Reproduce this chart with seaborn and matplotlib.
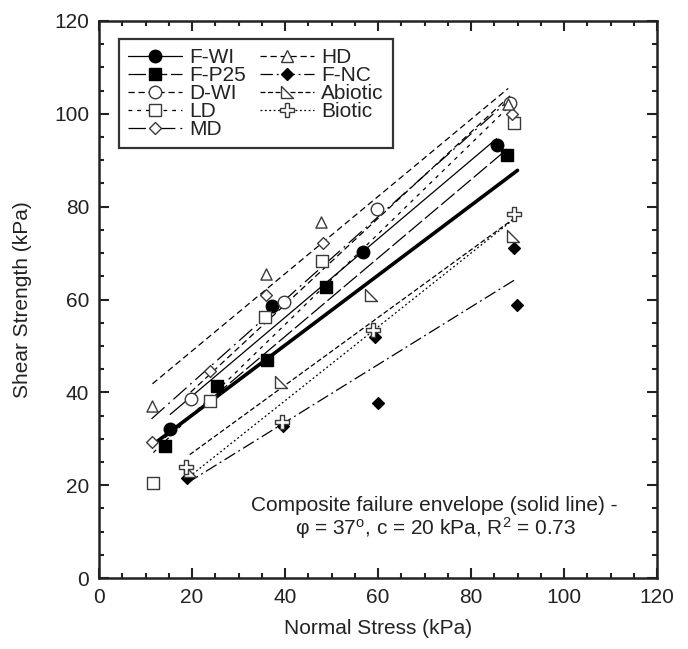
import numpy as np
import pandas as pd
import seaborn as sns
import matplotlib.pyplot as plt
from matplotlib.lines import Line2D
from matplotlib.path import Path
from matplotlib.ticker import MultipleLocator

# Data (normal stress, shear strength in kPa)
fwi_x = [15.3, 37.3, 56.8, 85.5]
fwi_y = [32.0, 58.6, 70.3, 93.2]
fp25_x = [14.2, 25.4, 36.1, 48.8, 87.8]
fp25_y = [28.4, 41.3, 47.0, 62.6, 91.2]
dwi_x = [19.7, 39.8, 59.7, 88.4]
dwi_y = [38.5, 59.5, 79.5, 102.3]
ld_x = [11.7, 23.9, 35.7, 47.9, 89.2]
ld_y = [20.5, 38.1, 56.3, 68.2, 98.1]
md_x = [11.3, 23.9, 35.9, 48.1, 88.8]
md_y = [29.4, 44.5, 60.9, 72.1, 99.9]
hd_x = [11.5, 35.9, 47.7, 88.0]
hd_y = [37.1, 65.5, 76.6, 102.2]
fnc_x = [19.0, 39.6, 59.4, 60.0, 89.2, 89.8]
fnc_y = [21.5, 32.8, 52.0, 37.7, 71.1, 58.8]
abio_x = [19.5, 39.1, 58.6, 89.0]
abio_y = [23.0, 42.3, 60.9, 73.6]
bio_x = [18.7, 39.3, 59.0, 89.2]
bio_y = [24.0, 33.7, 53.4, 78.4]

labels = ["F-WI", "F-P25", "D-WI", "LD", "MD", "HD", "F-NC", "Abiotic", "Biotic"]
xs = [fwi_x, fp25_x, dwi_x, ld_x, md_x, hd_x, fnc_x, abio_x, bio_x]
ys = [fwi_y, fp25_y, dwi_y, ld_y, md_y, hd_y, fnc_y, abio_y, bio_y]

# Composite failure envelope
phi_deg = 37
cohesion = 20
env_x = [11.7, 90.0]

# right-angle triangle marker for Abiotic
rtri = Path([(-1, 1), (-1, -1), (1, -1), (-1, 1)],
            [Path.MOVETO, Path.LINETO, Path.LINETO, Path.CLOSEPOLY])

# marker, face, size, dashes
styles = {
    "F-WI": ("o", "black", 9, None),
    "F-P25": ("s", "black", 9, (14, 3)),
    "D-WI": ("o", "white", 9, (5, 3)),
    "LD": ("s", "white", 8.5, (3, 4)),
    "MD": ("D", "white", 6, (14, 4, 1.5, 4)),
    "HD": ("^", "white", 8, (5, 3)),
    "F-NC": ("D", "black", 6, (10, 3, 1.5, 3)),
    "Abiotic": (rtri, "white", 9, (4, 2)),
    "Biotic": ("P", "white", 10, (1.5, 2)),
}

FS = 15

sns.set_style("ticks")
plt.rcParams['font.family'] = ['Liberation Sans', 'DejaVu Sans']
plt.rcParams['mathtext.fontset'] = 'custom'
plt.rcParams['mathtext.rm'] = 'Liberation Sans'
plt.rcParams['mathtext.it'] = 'Liberation Sans:italic'

fig = plt.figure(figsize=(6.88, 6.49), dpi=100)
ax = fig.add_axes([99 / 688, 71 / 649, 558 / 688, 557 / 649])

handles = []
for lab, x, y in zip(labels, xs, ys):
    mk, face, ms, dash = styles[lab]
    edge = "black" if face == "black" else "#3a3a3a"
    df = pd.DataFrame({"x": x, "y": y})
    lkw = {"color": "black", "lw": 0.9}
    if dash is not None:
        lkw["dashes"] = dash
    sns.regplot(data=df, x="x", y="y", ci=None, scatter=False, truncate=True,
                line_kws=lkw, ax=ax)
    sns.scatterplot(data=df, x="x", y="y", marker=mk, s=ms ** 2, color=face,
                    edgecolor=edge, linewidth=1.0, zorder=5, ax=ax)
    hkw = dict(color="black", lw=0.9, marker=mk, ms=ms, mfc=face, mec=edge, mew=1.0)
    if dash is not None:
        hkw["dashes"] = dash
    handles.append(Line2D([], [], label=lab, **hkw))

env_y = [cohesion + np.tan(np.radians(phi_deg)) * v for v in env_x]
sns.lineplot(x=env_x, y=env_y, color="black", lw=2.6, ax=ax, zorder=4)

ax.set_xlim(0, 120)
ax.set_ylim(0, 120)
ax.xaxis.set_major_locator(MultipleLocator(20))
ax.yaxis.set_major_locator(MultipleLocator(20))
ax.xaxis.set_minor_locator(MultipleLocator(5))
ax.yaxis.set_minor_locator(MultipleLocator(5))
ax.tick_params(which="both", direction="in", top=True, right=True, width=1.5,
               labelsize=FS, colors="#222222")
ax.tick_params(which="major", length=7, pad=7)
ax.tick_params(which="minor", length=3.5)
for sp in ax.spines.values():
    sp.set_linewidth(1.8)
    sp.set_color("#222222")

ax.set_xlabel("Normal Stress (kPa)", fontsize=FS, color="#222222", labelpad=9)
ax.set_ylabel("Shear Strength (kPa)", fontsize=FS, color="#222222", labelpad=16)

ax.text(72, 15.7, "Composite failure envelope (solid line) -", ha="center",
        va="center", fontsize=FS, color="#222222")
ax.text(72.5, 10.8, "\u03c6 = 37$^{\\rm o}$, c = 20 kPa, R$^{\\rm 2}$ = 0.73",
        ha="center", va="center", fontsize=FS, color="#222222")

leg = ax.legend(handles=handles, ncol=2, loc="upper left",
                bbox_to_anchor=(0.035, 0.968), borderaxespad=0, fontsize=FS,
                frameon=True, fancybox=False, handlelength=2.6, handletextpad=0.35,
                columnspacing=0.65, labelspacing=-0.05, borderpad=0.45)
leg.get_frame().set_edgecolor("black")
leg.get_frame().set_linewidth(1.6)
for t in leg.get_texts():
    t.set_color("#222222")

fig.savefig("out.png", dpi=100)
